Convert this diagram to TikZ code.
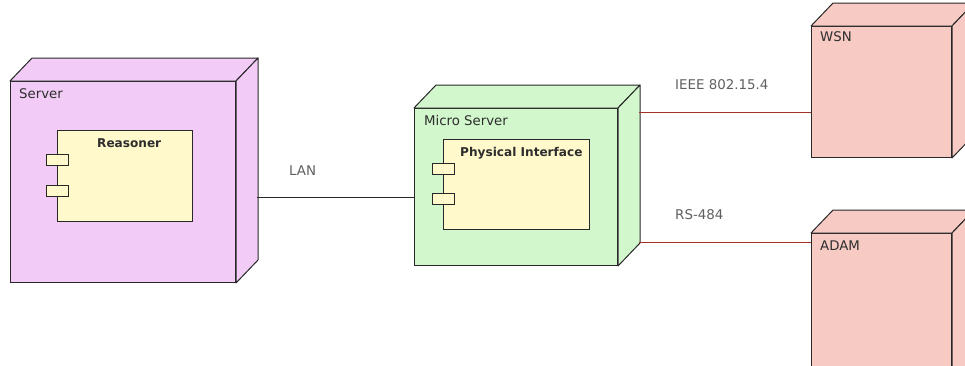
\documentclass[tikz,border=0pt]{standalone}
\usepackage{fontspec}
\setmainfont{DejaVu Sans}
\usetikzlibrary{calc}
\definecolor{srvfill}{RGB}{242,204,246}
\definecolor{microfill}{RGB}{210,247,204}
\definecolor{compfill}{RGB}{255,249,204}
\definecolor{extfill}{RGB}{247,203,196}
\definecolor{edgecol}{RGB}{40,40,40}
\definecolor{redline}{RGB}{160,50,40}
\definecolor{txt}{RGB}{45,45,45}
\definecolor{lbl}{RGB}{95,95,95}
\tikzset{
  front/.style={draw=edgecol, line width=1pt, anchor=north west, inner sep=0pt},
  comp/.style={draw=edgecol, line width=1pt, fill=compfill, anchor=north west, inner sep=0pt},
  port/.style={draw=edgecol, line width=1pt, fill=compfill, anchor=north west, inner sep=0pt, minimum width=22pt, minimum height=11pt},
  nodetitle/.style={anchor=base west, inner sep=0pt, text=txt, font=\fontsize{13.3}{15}\selectfont},
  comptitle/.style={anchor=base west, inner sep=0pt, text=txt, font=\bfseries\fontsize{12.1}{14}\selectfont},
  linklabel/.style={anchor=base west, inner sep=0pt, text=lbl, font=\fontsize{13.4}{15}\selectfont},
  blackline/.style={draw=edgecol, line width=1pt},
  redwire/.style={draw=redline, line width=1pt},
}
\newcommand\cubefaces[2]{%
  \draw[draw=edgecol, line width=1pt, fill=#2, line join=round]
    (#1.north west) -- ++(22,-23) -- ($(#1.north east)+(22,-23)$) -- (#1.north east) -- cycle;
  \draw[draw=edgecol, line width=1pt, fill=#2, line join=round]
    (#1.north east) -- ++(22,-23) -- ($(#1.south east)+(22,-23)$) -- (#1.south east) -- cycle;
}
\begin{document}
\begin{tikzpicture}[x=1pt, y=-1pt]
\useasboundingbox (0,0) rectangle (965,365);
\clip (0,0) rectangle (965,365);

% Server
\node[front, fill=srvfill, minimum width=225pt, minimum height=201pt] (server) at (10,81) {};
\cubefaces{server}{srvfill}
\node[nodetitle] (servert) at (19,98) {Server};
\node[comp, minimum width=135pt, minimum height=91pt] (reasoner) at (57,130) {};
\node[port] (rp1) at (46,154) {};
\node[port] (rp2) at (46,185) {};
\node[comptitle] (reasonert) at (97,147) {Reasoner};

% Micro Server
\node[front, fill=microfill, minimum width=203pt, minimum height=157pt] (micro) at (414,108) {};
\cubefaces{micro}{microfill}
\node[nodetitle] (microt) at (424,125) {Micro Server};
\node[comp, minimum width=146pt, minimum height=90pt] (phys) at (443,139) {};
\node[port] (pp1) at (432,163) {};
\node[port] (pp2) at (432,193) {};
\node[comptitle] (physt) at (460,156) {Physical Interface};

% WSN
\node[front, fill=extfill, minimum width=140pt, minimum height=131pt] (wsn) at (811,26) {};
\cubefaces{wsn}{extfill}
\node[nodetitle] (wsnt) at (820,41) {WSN};

% ADAM
\node[front, fill=extfill, minimum width=140pt, minimum height=160pt] (adam) at (811,233) {};
\cubefaces{adam}{extfill}
\node[nodetitle] (adamt) at (820,250) {ADAM};

% Connectors
\coordinate (lanA) at (257,197.5);
\draw[blackline] (lanA) -- (micro.west |- lanA);
\node[linklabel] (lant) at (289,175) {LAN};

\coordinate (ieeeA) at (639,112.5);
\draw[redwire] (ieeeA) -- (wsn.west |- ieeeA);
\node[linklabel] (ieeet) at (675,89) {IEEE 802.15.4};

\coordinate (rsA) at (639,242.5);
\draw[redwire] (rsA) -- (adam.west |- rsA);
\node[linklabel] (rst) at (675,219) {RS-484};
\end{tikzpicture}
\end{document}
